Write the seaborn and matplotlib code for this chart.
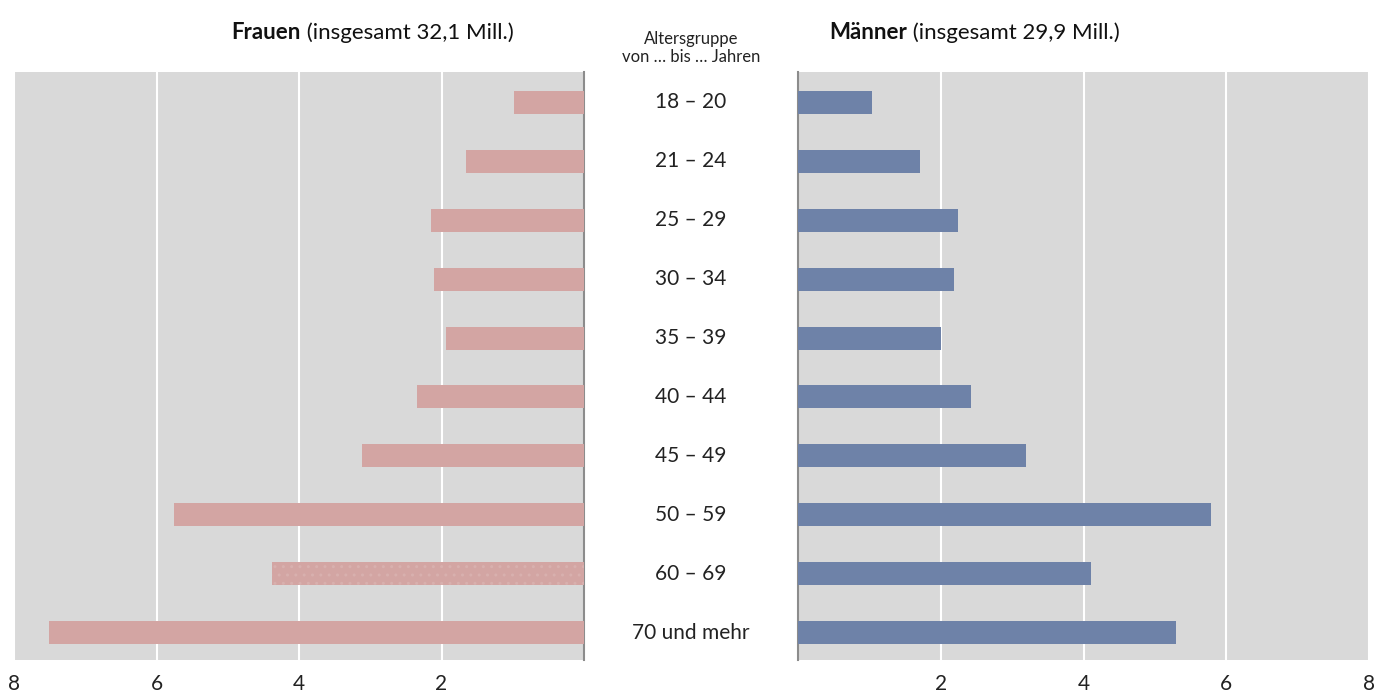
import matplotlib
matplotlib.use('Agg')
import matplotlib.pyplot as plt
import matplotlib.transforms as mtransforms
import seaborn as sns
import pandas as pd

age_groups = ["18 – 20", "21 – 24", "25 – 29", "30 – 34", "35 – 39",
              "40 – 44", "45 – 49", "50 – 59", "60 – 69", "70 und mehr"]
frauen = [0.98, 1.65, 2.15, 2.10, 1.93, 2.35, 3.12, 5.75, 4.38, 7.51]
maenner = [1.03, 1.71, 2.24, 2.18, 2.00, 2.42, 3.19, 5.79, 4.11, 5.29]
xticks = [2, 4, 6, 8]

col_f = "#d3a5a3"
col_m = "#6e82a8"
bg = "#d9d9d9"
font = ["Lato", "DejaVu Sans"]

sns.set_theme(style="white")
plt.rcParams['font.family'] = font
plt.rcParams['hatch.linewidth'] = 1.0

df = pd.DataFrame({"age": age_groups, "f": frauen, "m": maenner})

fig = plt.figure(figsize=(13.78, 6.98), dpi=100)
ax_f = fig.add_axes([0.0102, 0.0544, 0.4136, 0.8424])
ax_m = fig.add_axes([0.5791, 0.0544, 0.4144, 0.8424])

sns.barplot(data=df, y="age", x="f", orient="h", color=col_f, width=0.39,
            saturation=1, linewidth=0, ax=ax_f, zorder=3)
sns.barplot(data=df, y="age", x="m", orient="h", color=col_m, width=0.39,
            saturation=1, linewidth=0, ax=ax_m, zorder=3)

# faint dotted pattern on the 60-69 bar (women)
p = ax_f.patches[8]
p.set_hatch("..")
p.set_edgecolor("#d8b0ae")
p.set_linewidth(0)

for ax in (ax_f, ax_m):
    ax.set_facecolor(bg)
    ax.set_xlabel("")
    ax.set_ylabel("")
    ax.set_yticks([])
    ax.set_ylim(9.46, -0.51)
    ax.set_xticks(xticks)
    ax.set_xticklabels([str(t) for t in xticks])
    ax.tick_params(axis="x", length=0, labelsize=15, pad=10, colors="#222222")
    ax.grid(axis="x", color="white", linewidth=1.5, zorder=1)
    ax.set_axisbelow(True)
    for s in ax.spines.values():
        s.set_visible(False)

ax_f.set_xlim(8, 0)
ax_m.set_xlim(0, 8)
ax_f.spines["right"].set_visible(True)
ax_f.spines["right"].set_color("#8c8c8c")
ax_f.spines["right"].set_linewidth(1.5)
ax_m.spines["left"].set_visible(True)
ax_m.spines["left"].set_color("#8c8c8c")
ax_m.spines["left"].set_linewidth(1.5)

# age group labels in the middle
trans = mtransforms.blended_transform_factory(fig.transFigure, ax_f.transData)
for i, lab in enumerate(age_groups):
    fig.text(0.5015, i, lab, transform=trans, ha="center", va="center",
             fontsize=15, color="#222222")

fig.text(0.5015, 0.944, "Altersgruppe", ha="center", va="center",
         fontsize=12, color="#222222")
fig.text(0.5015, 0.919, "von … bis … Jahren", ha="center", va="center",
         fontsize=12, color="#222222")

# panel titles: bold name + normal rest
t1 = fig.text(0.168, 0.953, "Frauen", ha="left", va="center",
              fontsize=16, fontweight="bold", color="#111111")
ax_f.annotate(" (insgesamt 32,1 Mill.)", xy=(1, 0.5), xycoords=t1,
              ha="left", va="center", fontsize=16, color="#111111",
              annotation_clip=False)
t2 = fig.text(0.602, 0.953, "Männer", ha="left", va="center",
              fontsize=16, fontweight="bold", color="#111111")
ax_m.annotate(" (insgesamt 29,9 Mill.)", xy=(1, 0.5), xycoords=t2,
              ha="left", va="center", fontsize=16, color="#111111",
              annotation_clip=False)

fig.savefig("out.png", dpi=100)
